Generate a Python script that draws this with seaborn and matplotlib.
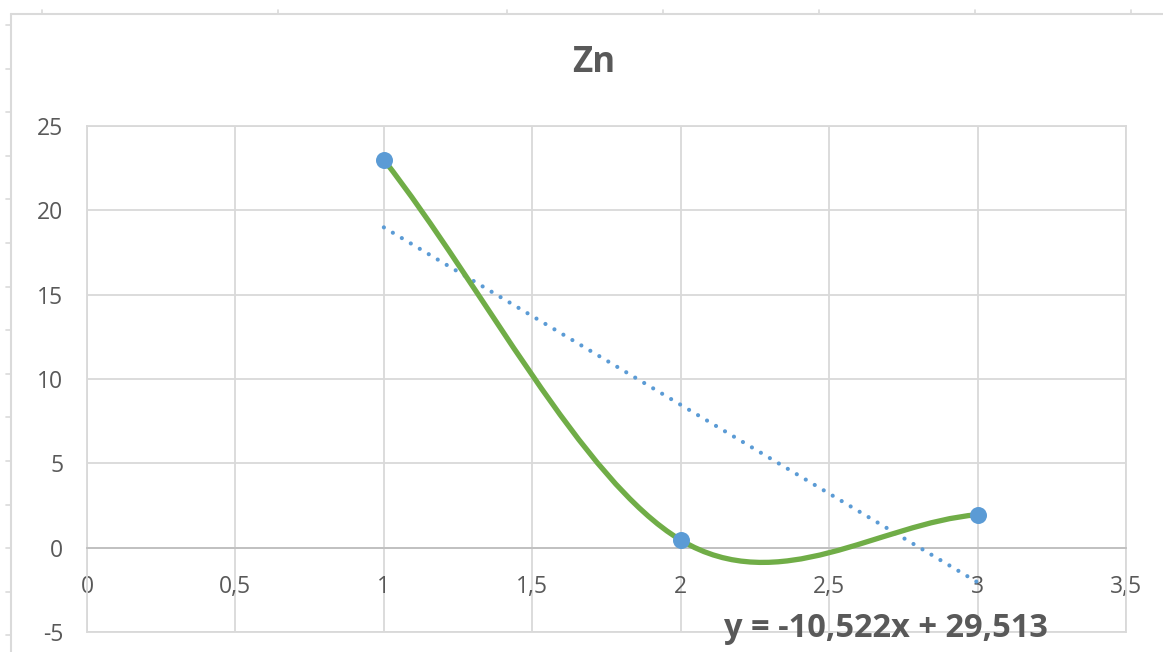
import numpy as np
import pandas as pd
import matplotlib
matplotlib.use("Agg")
import matplotlib.pyplot as plt
from matplotlib.path import Path
from matplotlib.patches import PathPatch
from matplotlib.lines import Line2D
import seaborn as sns

# data
x_vals = [1, 2, 3]
y_vals = [23.0, 0.45, 1.956]
x_ticks = [0, 0.5, 1, 1.5, 2, 2.5, 3, 3.5]
x_labels = ["0", "0,5", "1", "1,5", "2", "2,5", "3", "3,5"]
y_ticks = [-5, 0, 5, 10, 15, 20, 25]
y_labels = ["-5", "0", "5", "10", "15", "20", "25"]
title = "Zn"

GREEN = "#70AD47"
BLUE = "#5B9BD5"
GRID = "#D9D9D9"
TEXT = "#595959"

W, H = 1163, 652

sns.set_theme(style="white")
plt.rcParams["font.family"] = ["Open Sans", "DejaVu Sans"]

fig = plt.figure(figsize=(W / 100, H / 100), dpi=100)
fig.patch.set_facecolor("white")


def fx(px):
    return px / W


def fy(py):
    return 1 - py / H


# spreadsheet cell borders behind the chart
fig.add_artist(Line2D([fx(11), 1], [fy(14), fy(14)], color="#DADADA", lw=1.5))
fig.add_artist(Line2D([fx(11), fx(11)], [fy(14), 0], color="#DADADA", lw=1.5))
for px in [42, 278, 507, 663, 819, 975, 1131]:
    fig.add_artist(Line2D([fx(px), fx(px)], [fy(10), fy(14)], color="#DADADA", lw=1.2))
for k in range(15):
    py = 25 + 43.6 * k
    fig.add_artist(Line2D([fx(6), fx(11)], [fy(py), fy(py)], color="#DADADA", lw=1.2))

ax = fig.add_axes([fx(87), fy(632), fx(1126) - fx(87), fy(126) - fy(632)])
ax.set_facecolor("white")

df = pd.DataFrame({"x": x_vals, "y": y_vals})

# linear trendline from the data
slope, intercept = np.polyfit(df["x"], df["y"], 1)
trend = pd.DataFrame({"x": [df["x"].min(), df["x"].max()]})
trend["y"] = slope * trend["x"] + intercept
sns.lineplot(data=trend, x="x", y="y", ax=ax, color=BLUE, lw=3.0,
             linestyle=(0, (0.01, 2.5)), dash_capstyle="round", zorder=3)

# smoothed line (Excel-like cubic bezier through the points)
pts = df[["x", "y"]].to_numpy()
n = len(pts)
tang = np.zeros_like(pts)
for i in range(n):
    if i == 0:
        tang[i] = pts[1] - pts[0]
    elif i == n - 1:
        tang[i] = pts[-1] - pts[-2]
    else:
        tang[i] = (pts[i + 1] - pts[i - 1]) / 2
verts = [pts[0]]
codes = [Path.MOVETO]
for i in range(n - 1):
    verts += [pts[i] + tang[i] / 3, pts[i + 1] - tang[i + 1] / 3, pts[i + 1]]
    codes += [Path.CURVE4] * 3
ax.add_patch(PathPatch(Path(verts, codes), fill=False, edgecolor=GREEN,
                       lw=3.8, capstyle="round", zorder=4))

sns.scatterplot(data=df, x="x", y="y", ax=ax, color=BLUE, s=150,
                edgecolor=BLUE, linewidth=0, zorder=5)

ax.set_xlim(0, 3.5)
ax.set_ylim(-5, 25)
ax.set_xticks(x_ticks)
ax.set_xticklabels(x_labels)
ax.set_yticks(y_ticks)
ax.set_yticklabels(y_labels)
ax.set_xlabel("")
ax.set_ylabel("")
ax.grid(True, color=GRID, lw=1.3)
ax.set_axisbelow(True)

for side in ["left", "top", "right"]:
    ax.spines[side].set_color(GRID)
    ax.spines[side].set_linewidth(1.3)
ax.spines["bottom"].set_position(("data", 0))
ax.spines["bottom"].set_color("#BFBFBF")
ax.spines["bottom"].set_linewidth(1.3)
ax.axhline(-5, color=GRID, lw=1.3, clip_on=False, zorder=0)

ax.tick_params(axis="x", length=0, pad=20, labelsize=16.5, labelcolor=TEXT)
ax.tick_params(axis="y", length=0, pad=17, labelsize=16.5, labelcolor=TEXT)

eq = f"y = {slope:.3f}x + {intercept:.3f}".replace(".", ",")
ax.text(2.693, -5.3, eq, ha="center", va="baseline", fontsize=23.5,
        fontweight="bold", color=TEXT, clip_on=False, zorder=6)

fig.text(fx(594), fy(63), title, ha="center", va="center", fontsize=25,
         fontweight="bold", color=TEXT)

fig.savefig("out.png", dpi=100)
